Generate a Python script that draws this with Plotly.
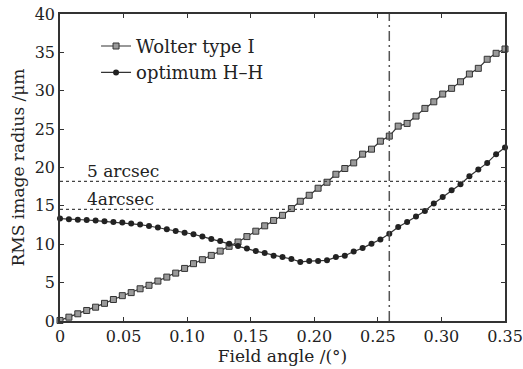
import plotly.graph_objects as go

angle_step = 0.007
field_angle = [round(i * angle_step, 3) for i in range(51)]

wolter_type_I = [0.07, 0.5, 0.94, 1.37, 1.8, 2.3, 2.8, 3.3, 3.7, 4.2,
                 4.65, 5.2, 5.72, 6.24, 6.85, 7.47, 7.99, 8.55, 9.11, 9.73,
                 10.29, 11.0, 11.7, 12.4, 13.1, 13.77, 14.65, 15.6, 16.38, 17.3,
                 18.08, 19.12, 19.87, 20.6, 21.74, 22.39, 23.43, 24.09, 25.39, 25.74,
                 26.7, 27.7, 28.56, 29.57, 30.31, 31.17, 32.18, 32.92, 34.1, 34.88,
                 35.44]

optimum_HH = [13.34, 13.25, 13.2, 13.16, 13.08, 12.99, 12.9, 12.82, 12.69, 12.56,
              12.38, 12.17, 11.95, 11.73, 11.5, 11.3, 11.0, 10.7, 10.42, 10.05,
              9.77, 9.43, 9.11, 8.85, 8.5, 8.33, 8.08, 7.7, 7.81, 7.81,
              7.9, 8.33, 8.5, 9.05, 9.5, 10.08, 10.62, 11.38, 12.25, 12.9,
              13.6, 14.33, 15.3, 16.16, 17.04, 17.82, 18.86, 19.74, 20.6, 21.74,
              22.61]

arcsec_levels = [18.2, 14.55]
arcsec_labels = ["5 arcsec", "4arcsec"]
label_x = 0.02
vline_x = 0.259

x_tickvals = [0, 0.05, 0.10, 0.15, 0.20, 0.25, 0.30, 0.35]
x_ticktext = ["0", "0.05", "0.10", "0.15", "0.20", "0.25", "0.30", "0.35"]
y_tickvals = [0, 5, 10, 15, 20, 25, 30, 35, 40]

FONT = "DejaVu Serif"
DARK = "#333333"

fig = go.Figure()

fig.add_trace(go.Scatter(
    x=field_angle, y=wolter_type_I, name="Wolter type I",
    mode="lines+markers", cliponaxis=False,
    line=dict(color=DARK, width=1.2),
    marker=dict(symbol="square", size=6, color="#9a9a9a",
                line=dict(color=DARK, width=1)),
))
fig.add_trace(go.Scatter(
    x=field_angle, y=optimum_HH, name="optimum H\u2013H",
    mode="lines+markers", cliponaxis=False,
    line=dict(color=DARK, width=1.2),
    marker=dict(symbol="circle", size=6, color="#222222"),
))

for lvl, lab in zip(arcsec_levels, arcsec_labels):
    fig.add_shape(type="line", xref="x", yref="y", x0=0, x1=0.35, y0=lvl, y1=lvl,
                  line=dict(color="#444444", width=1.3, dash="dot"))
    fig.add_annotation(x=label_x, y=lvl, xref="x", yref="y", text=lab,
                       showarrow=False, xanchor="left", yanchor="bottom", yshift=-2,
                       font=dict(family=FONT, size=17, color="#222222"))

fig.add_shape(type="line", xref="x", yref="y", x0=vline_x, x1=vline_x, y0=0, y1=40,
              line=dict(color="#555555", width=1.5, dash="10px,4px,2px,4px"))

axis_common = dict(
    showgrid=False, zeroline=False, showline=True, linecolor=DARK, linewidth=1.5,
    mirror="ticks", ticks="inside", ticklen=4, tickwidth=1, tickcolor=DARK,
    automargin=False, ticklabeloverflow="allow",
    tickfont=dict(family=FONT, size=16, color="#222222"),
)

fig.update_xaxes(range=[-0.000001, 0.350001], tickvals=x_tickvals, ticktext=x_ticktext,
                 title=dict(text="Field angle /(\u00b0)", standoff=2,
                            font=dict(family=FONT, size=17, color="#222222")),
                 **axis_common)
fig.update_yaxes(range=[0, 40.0001], tickvals=y_tickvals,
                 title=dict(text="RMS image radius /\u03bcm", standoff=6,
                            font=dict(family=FONT, size=17, color="#222222")),
                 **axis_common)

fig.update_layout(
    width=523, height=369,
    margin=dict(l=60, r=18, t=14, b=48),
    paper_bgcolor="white", plot_bgcolor="white",
    showlegend=True,
    legend=dict(x=0.081, y=0.955, xanchor="left", yanchor="top",
                bgcolor="rgba(0,0,0,0)", tracegroupgap=0,
                font=dict(family=FONT, size=18, color="#222222"),
                itemwidth=30),
)

fig.write_html("out.html", config={"displayModeBar": False},
               post_script="document.body.style.margin='0';")
